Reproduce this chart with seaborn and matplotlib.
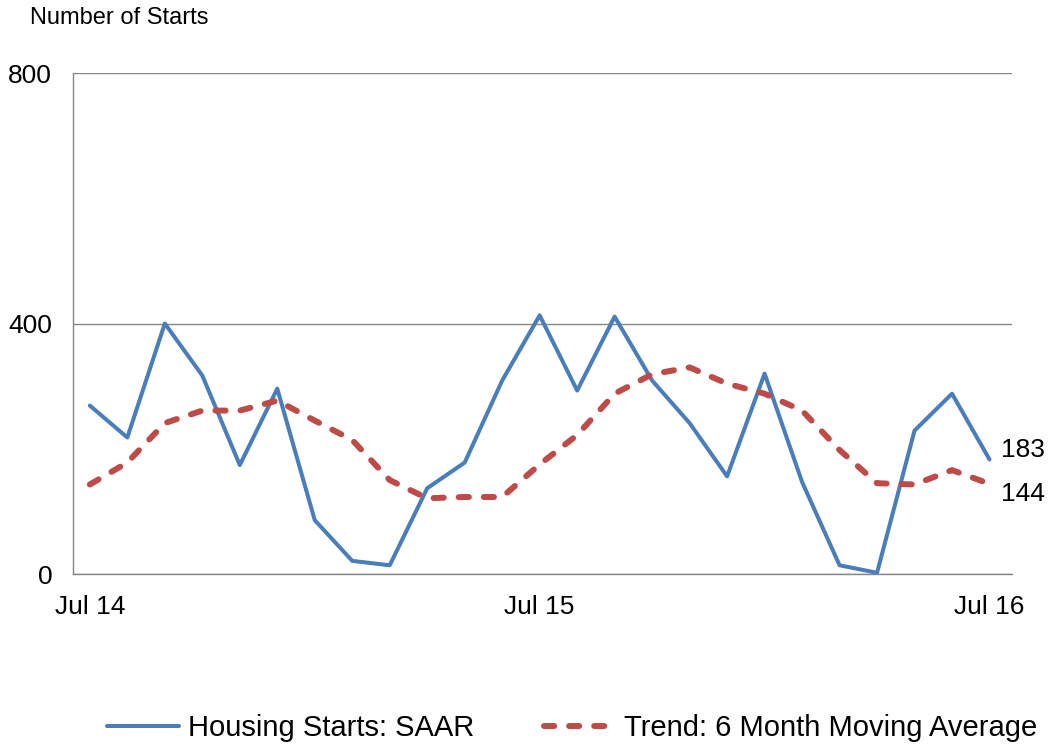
import pandas as pd
import matplotlib
matplotlib.use('Agg')
import matplotlib.pyplot as plt
import seaborn as sns

# monthly values, Jul 14 .. Jul 16
months = ['Jul 14', 'Aug 14', 'Sep 14', 'Oct 14', 'Nov 14', 'Dec 14',
          'Jan 15', 'Feb 15', 'Mar 15', 'Apr 15', 'May 15', 'Jun 15',
          'Jul 15', 'Aug 15', 'Sep 15', 'Oct 15', 'Nov 15', 'Dec 15',
          'Jan 16', 'Feb 16', 'Mar 16', 'Apr 16', 'May 16', 'Jun 16', 'Jul 16']
starts = [269, 218, 400, 317, 174, 296, 86, 21, 14, 137, 178, 309,
          413, 293, 411, 309, 241, 156, 320, 147, 14, 2, 229, 288, 183]
trend = [143, 178, 241, 261, 261, 277, 245, 214, 150, 121, 123, 123,
         175, 222, 288, 319, 330, 304, 288, 261, 198, 145, 143, 166, 144]
tick_labels = ['Jul 14', 'Jul 15', 'Jul 16']
tick_pos = [0, 12, 24]

sns.set_theme(style='white')
plt.rcParams['font.family'] = ['Liberation Sans', 'DejaVu Sans']
plt.rcParams['text.color'] = 'black'

df = pd.DataFrame({'i': range(len(months)), 'month': months,
                   'Housing Starts: SAAR': starts,
                   'Trend: 6 Month Moving Average': trend})

fig = plt.figure(figsize=(10.5, 7.49), dpi=100)
ax = fig.add_axes([0.0695, 0.2336, 0.8943, 0.6689])

blue = '#4A7EBB'
red = '#BE4B48'
sns.lineplot(data=df, x='i', y='Housing Starts: SAAR', ax=ax, color=blue,
             linewidth=2.9, label='Housing Starts: SAAR')
sns.lineplot(data=df, x='i', y='Trend: 6 Month Moving Average', ax=ax, color=red,
             linewidth=4.3, label='Trend: 6 Month Moving Average')
trend_line = ax.lines[1]
trend_line.set_dashes([1.7, 2.5])
trend_line.set_dash_capstyle('round')

ax.set_xlim(-0.45, 24.6)
ax.set_ylim(0, 800)
ax.set_yticks([0, 400, 800])
ax.set_xticks(tick_pos)
ax.set_xticklabels(tick_labels)
ax.tick_params(axis='both', labelsize=19, length=0, colors='black')
ax.tick_params(axis='y', pad=15)
ax.tick_params(axis='x', pad=15)
ax.set_xlabel('')
ax.set_ylabel('')
ax.grid(axis='y', color='#868686', linewidth=1)
for s in ['top', 'right']:
    ax.spines[s].set_visible(False)
for s in ['left', 'bottom']:
    ax.spines[s].set_color('#868686')
    ax.spines[s].set_linewidth(1)

ax.annotate(str(starts[-1]), xy=(24, starts[-1]), xytext=(8, 7),
            textcoords='offset points', fontsize=19, va='center', ha='left')
ax.annotate(str(trend[-1]), xy=(24, trend[-1]), xytext=(8, -7),
            textcoords='offset points', fontsize=19, va='center', ha='left')

fig.text(0.0286, 0.99, 'Number of Starts', fontsize=17, va='top', ha='left')

leg = ax.legend(loc='center', bbox_to_anchor=(0.545, 0.028), bbox_transform=fig.transFigure,
                ncol=2, frameon=False, fontsize=21, handlelength=2.45, handletextpad=0.3,
                columnspacing=2.4)
leg.get_lines()[1].set_dashes([1.7, 2.5])
leg.get_lines()[1].set_dash_capstyle('round')

fig.savefig('out.png', dpi=100)
